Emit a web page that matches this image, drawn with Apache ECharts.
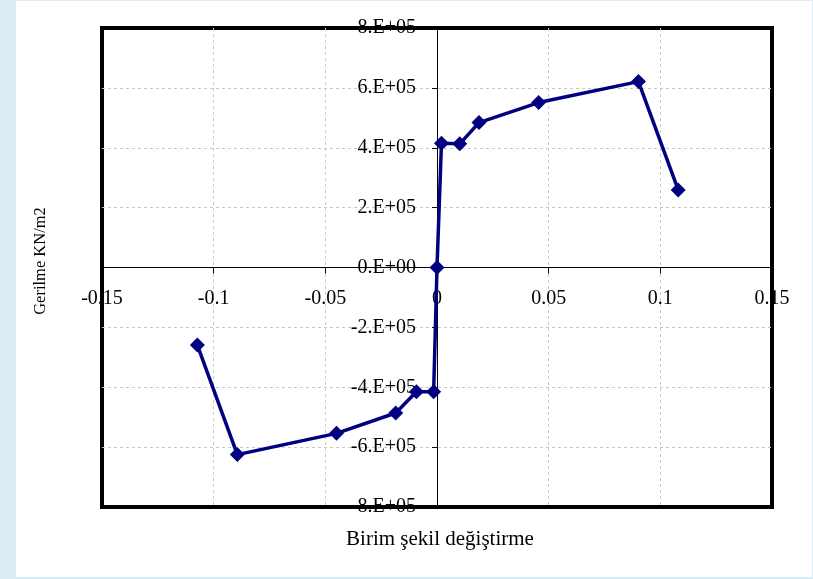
<!DOCTYPE html>
<html>
<head>
<meta charset="utf-8">
<script src="https://cdn.jsdelivr.net/npm/echarts@6/dist/echarts.min.js"></script>
<style>
  html, body { margin: 0; padding: 0; }
  #frame { position: absolute; left: 0; top: 0; width: 813px; height: 579px; background: #daedf2; }
  #chart { position: absolute; left: 16px; top: 1px; width: 796px; height: 576px; background: #ffffff; }
</style>
</head>
<body>
<div id="frame"><div id="chart"></div></div>
<script>
// Stress-strain curve (cyclic test, tension and compression branches)
const strain = [-0.1073, -0.0894, -0.0450, -0.0185, -0.0092, -0.0015, 0, 0.0020, 0.0102, 0.0188, 0.0455, 0.0902, 0.1080];
const stress = [-259000, -625000, -554000, -486000, -415000, -415000, 0, 415000, 413000, 484000, 551000, 621000, 259000];

const xTickValues = [-0.15, -0.1, -0.05, 0, 0.05, 0.1, 0.15];
const xTickLabels = ['-0.15', '-0.1', '-0.05', '0', '0.05', '0.1', '0.15'];
const yTickValues = [-800000, -600000, -400000, -200000, 0, 200000, 400000, 600000, 800000];
const yTickLabels = ['-8.E+05', '-6.E+05', '-4.E+05', '-2.E+05', '0.E+00', '2.E+05', '4.E+05', '6.E+05', '8.E+05'];

const xTitle = 'Birim şekil değiştirme';
const yTitle = 'Gerilme KN/m2';

const X_MIN = -0.15, X_MAX = 0.15;
const Y_MIN = -800000, Y_MAX = 800000;

function labelFor(values, labels, v) {
  let best = 0;
  for (let i = 1; i < values.length; i++) {
    if (Math.abs(values[i] - v) < Math.abs(values[best] - v)) best = i;
  }
  return labels[best];
}

const FONT = '"Liberation Serif", "Times New Roman", serif';

const el = document.getElementById('chart');
const W = el.clientWidth, H = el.clientHeight;
const GRID = { left: 86, right: 40, top: 27, bottom: 70 };
const gridW = W - GRID.left - GRID.right;
const gridH = H - GRID.top - GRID.bottom;

// Axes cross at the origin: shift each axis from its edge to the other axis's zero
const xAxisShift = -gridH * (0 - Y_MIN) / (Y_MAX - Y_MIN);
const yAxisShift = -gridW * (0 - X_MIN) / (X_MAX - X_MIN);

const chart = echarts.init(el, null, { renderer: 'canvas' });

const gridLine = { show: true, showMinLine: false, showMaxLine: false,
                   lineStyle: { color: '#c8c8c8', type: [3, 3], width: 1 } };

chart.setOption({
  backgroundColor: 'transparent',
  animation: false,
  grid: Object.assign({
    show: true,
    borderColor: '#000000',
    borderWidth: 4,
    backgroundColor: '#ffffff'
  }, GRID),
  xAxis: {
    type: 'value',
    position: 'bottom',
    offset: xAxisShift,
    min: X_MIN, max: X_MAX, interval: 0.05,
    axisLine: { show: true, onZero: false, lineStyle: { color: '#000', width: 1 } },
    axisTick: { show: true, inside: false, length: 6, lineStyle: { color: '#000', width: 1 } },
    axisLabel: {
      margin: 21,
      fontFamily: FONT, fontSize: 20, color: '#000',
      showMinLabel: true, showMaxLabel: true,
      formatter: v => labelFor(xTickValues, xTickLabels, v)
    },
    splitLine: gridLine
  },
  yAxis: {
    type: 'value',
    position: 'left',
    offset: yAxisShift,
    min: Y_MIN, max: Y_MAX, interval: 200000,
    axisLine: { show: true, onZero: false, lineStyle: { color: '#000', width: 1 } },
    axisTick: { show: true, inside: false, length: 5, lineStyle: { color: '#000', width: 1 } },
    axisLabel: {
      margin: 21,
      fontFamily: FONT, fontSize: 20, color: '#000',
      showMinLabel: true, showMaxLabel: true,
      formatter: v => labelFor(yTickValues, yTickLabels, v)
    },
    splitLine: gridLine
  },
  graphic: [
    {
      type: 'text',
      x: 424, y: 538,
      style: {
        text: xTitle,
        font: '21px ' + FONT,
        fill: '#000',
        textAlign: 'center',
        textVerticalAlign: 'middle'
      }
    },
    {
      type: 'text',
      x: 25, y: 260,
      rotation: Math.PI / 2,
      style: {
        text: yTitle,
        font: '16.5px ' + FONT,
        fill: '#000',
        textAlign: 'center',
        textVerticalAlign: 'middle'
      }
    }
  ],
  series: [{
    type: 'line',
    data: strain.map((x, i) => [x, stress[i]]),
    symbol: 'diamond',
    symbolSize: [15, 15],
    showAllSymbol: true,
    lineStyle: { color: '#000080', width: 3.5 },
    itemStyle: { color: '#000080', borderWidth: 0 },
    z: 5
  }]
});
</script>
</body>
</html>
